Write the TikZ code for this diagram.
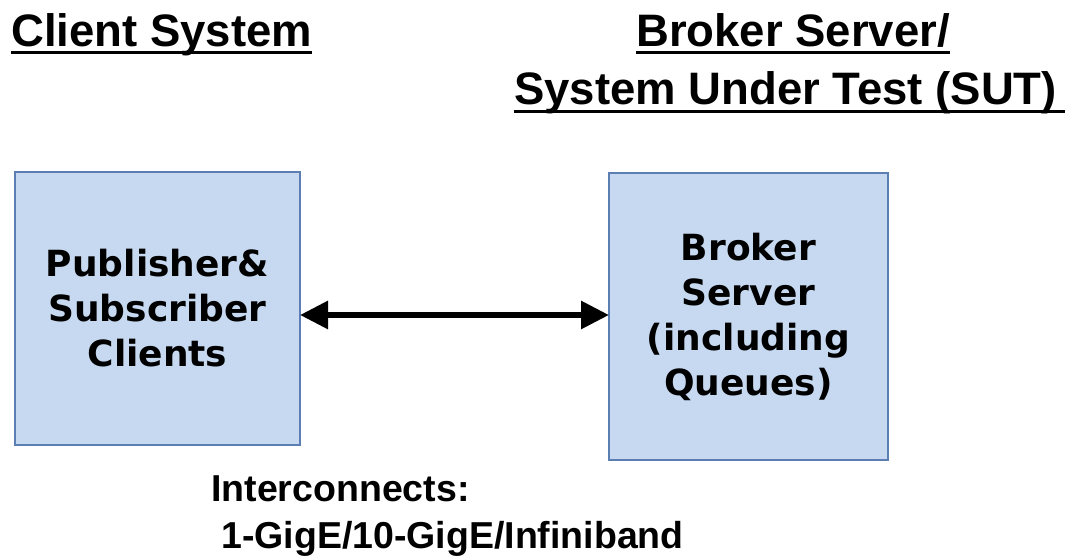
\documentclass[tikz,border=0pt]{standalone}
\usepackage{fontspec}
\setmainfont{Liberation Sans}
\newfontfamily\boxfont{DejaVu Sans}
\usetikzlibrary{arrows.meta}
\definecolor{boxfill}{HTML}{C6D9F1}
\definecolor{boxline}{HTML}{5B7FB3}
\begin{document}
\begin{tikzpicture}[x=1pt,y=-1pt,
  heading/.style={anchor=base west,inner sep=0pt,
    font=\fontsize{45.5}{50}\selectfont\bfseries},
  ul/.style={line width=2.8pt},
  sysbox/.style={draw=boxline,fill=boxfill,line width=1.3pt},
  boxtext/.style={align=center,inner sep=0pt,
    font=\boxfont\fontsize{36}{45}\selectfont\bfseries},
  note/.style={anchor=base west,inner sep=0pt,
    font=\fontsize{37.5}{44}\selectfont\bfseries},
  link/.style={line width=6pt,{Triangle[length=28pt,width=27pt]}-{Triangle[length=28pt,width=27pt]}}]
  \useasboundingbox (0,0) rectangle (1068,556);

  % headings
  \node[heading] (hclient) at (11,47) {Client System};
  \node[heading] (hbroker) at (636,47) {Broker Server/};
  \node[heading] (hsut) at (514,105) {System Under Test (SUT)};
  \draw[ul] ([yshift=-5.5pt]hclient.base west) -- ([yshift=-5.5pt]hclient.base east);
  \draw[ul] ([yshift=-5.5pt]hbroker.base west) -- ([yshift=-5.5pt]hbroker.base east);
  \draw[ul] ([yshift=-6.5pt]hsut.base west) -- ([yshift=-6.5pt,xshift=8pt]hsut.base east);

  % system boxes
  \draw[sysbox] (15,172) rectangle (300,445);
  \draw[sysbox] (609,173) rectangle (888,460);
  \node[boxtext] (client) at (157.5,308.5) {Publisher\&\\Subscriber\\Clients};
  \node[boxtext] (broker) at (748.5,316.5) {Broker\\Server\\(including\\Queues)};
  \coordinate (cport) at (300,315);
  \coordinate (bport) at (609,315);

  % interconnect
  \draw[link] (cport) -- (bport);

  \node[note] (ic1) at (211,501) {Interconnects:};
  \node[note] (ic2) at (221,548) {1-GigE/10-GigE/Infiniband};
\end{tikzpicture}
\end{document}
